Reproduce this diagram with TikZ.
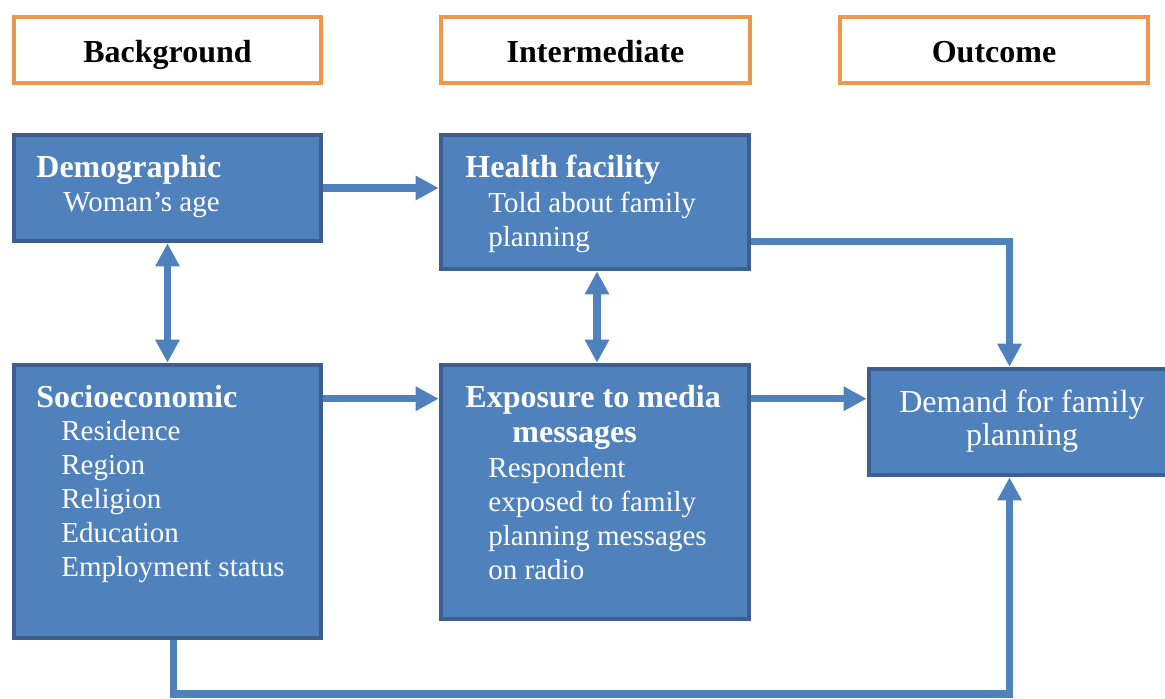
\documentclass[tikz,border=0pt]{standalone}
\usepackage{fontspec}
\setmainfont{Liberation Serif}
\usetikzlibrary{arrows.meta,fit}

\definecolor{boxblue}{HTML}{4F81BD}
\definecolor{boxline}{HTML}{3B6090}
\definecolor{headline}{HTML}{F0964E}

\begin{document}
\begin{tikzpicture}[x=0.5pt,y=-0.5pt,
   head/.style={draw=headline,line width=2pt,fill=white,inner sep=0pt},
   htext/.style={anchor=base,inner sep=0pt,font=\fontsize{16}{18}\selectfont\bfseries},
   block/.style={draw=boxline,line width=2.3pt,fill=boxblue,inner sep=0pt},
   title/.style={anchor=base west,inner sep=0pt,text=white,font=\fontsize{16}{18}\selectfont\bfseries},
   item/.style={anchor=base west,inner sep=0pt,text=white,font=\fontsize{14.5}{17}\selectfont},
   to/.style={-{Triangle[length=11.5pt,width=11.5pt]},line width=3.6pt,draw=boxblue},
   both/.style={{Triangle[length=11.5pt,width=11.5pt]}-{Triangle[length=11.5pt,width=11.5pt]},line width=3.6pt,draw=boxblue}]
\useasboundingbox (0,0) rectangle (1165,698);
% column headers
\node[head,fit={(14,17) (321,83)}] (bg) {};
\node[head,fit={(441,17) (750,83)}] (int) {};
\node[head,fit={(840,17) (1148,83)}] (out) {};
\node[htext] (bgT) at ([yshift=-6pt]bg.center) {Background};
\node[htext] (intT) at ([yshift=-6pt]int.center) {Intermediate};
\node[htext] (outT) at ([yshift=-6pt]out.center) {Outcome};
% boxes
\node[block,fit={(14,135) (321,241)}] (demo) {};
\node[block,fit={(441,135) (749,269)}] (health) {};
\node[block,fit={(14,365) (321,638)}] (socio) {};
\node[block,fit={(441,365) (749,619)}] (expo) {};
\node[block,fit={(869,369) (1180,475)}] (demand) {};
% box texts
\node[title] (demoT) at (36,177) {Demographic};
\node[item] (demoA) at (63,211) {Woman’s age};
\node[title] (healthT) at (465,177) {Health facility};
\node[item] (healthA) at (488,212) {Told about family};
\node[item] (healthB) at (488,246) {planning};
\node[title] (socioT) at (36,407) {Socioeconomic};
\foreach \t [count=\i from 0] in {Residence,Region,Religion,Education,Employment status}
   \node[item] (socio\i) at (61,440+34*\i) {\t};
\node[title] (expoT) at (465,407) {Exposure to media};
\node[title] (expoU) at (512,442) {messages};
\foreach \t [count=\i from 0] in {Respondent,exposed to family,planning messages,on radio}
   \node[item] (expo\i) at (488,477+34*\i) {\t};
\node[anchor=base,inner sep=0pt,text=white,font=\fontsize{16}{18}\selectfont]
   (demandA) at (1022,412) {Demand for family};
\node[anchor=base,inner sep=0pt,text=white,font=\fontsize{16}{18}\selectfont]
   (demandB) at (1022,445) {planning};
% connectors
\coordinate (low) at (600,694);
\draw[to] (demo.east) -- (demo.east -| health.west);
\draw[both] (demo.south) -- (socio.north);
\draw[both] ([xshift=1pt]health.south) -- ([xshift=1pt]expo.north);
\draw[to] ([yshift=-18pt]socio.north east) -- ([yshift=-18pt]expo.north west);
\draw[to] ([yshift=-18pt]expo.north east) -- ([yshift=-18pt]expo.north east -| demand.west);
\draw[to] ([yshift=15pt]health.south east) -| ([xshift=-7.5pt]demand.north);
\draw[to] ([xshift=3pt]socio.south) -- ([xshift=3pt]socio.south |- low) -| ([xshift=-7.5pt]demand.south);
\end{tikzpicture}
\end{document}
